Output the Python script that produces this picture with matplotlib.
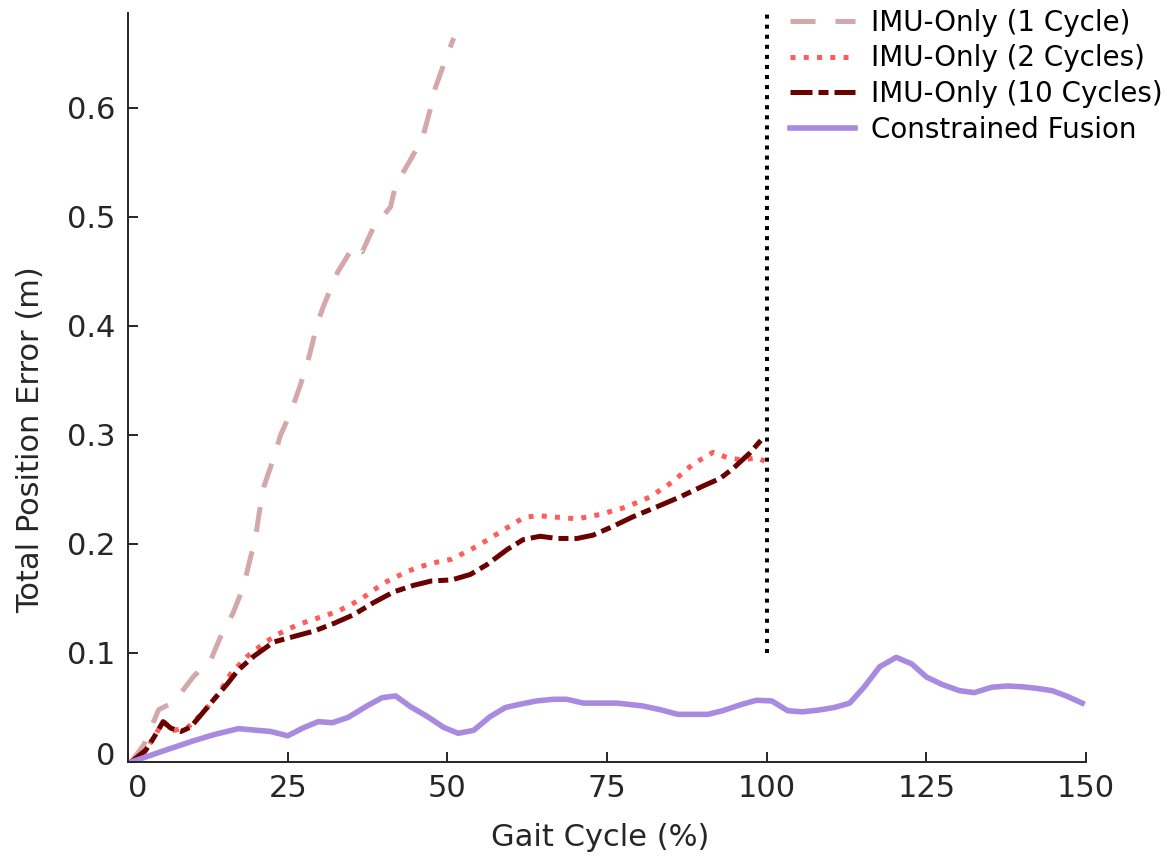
import matplotlib
matplotlib.use('Agg')
import matplotlib.pyplot as plt
from matplotlib.transforms import ScaledTranslation

# IMU-only, 1 cycle integration
x_one = [0.5, 2.5, 4.8, 7.2, 10.2, 11.7, 12.7, 14.5, 16.4, 18.1, 18.7, 20.0, 20.5,
         21.3, 22.7, 23.9, 25.5, 27.0, 28.1, 29.7, 30.6, 32.8, 35.4, 36.7, 38.4,
         41.1, 41.9, 44.2, 46.1, 47.3, 48.1, 49.7, 51.0]
y_one = [0.0, 0.016, 0.048, 0.055, 0.078, 0.087, 0.090, 0.115, 0.136, 0.161, 0.176,
         0.207, 0.227, 0.253, 0.277, 0.300, 0.321, 0.346, 0.366, 0.403, 0.418, 0.449,
         0.474, 0.468, 0.490, 0.509, 0.529, 0.552, 0.572, 0.598, 0.618, 0.644, 0.664]

# IMU-only, 2 cycles
x_two = [0.5, 2.5, 4.4, 5.5, 7.2, 9.4, 11.7, 14.1, 16.1, 18.7, 21.3, 23.4, 26.6,
         29.7, 32.8, 36.4, 40.0, 43.8, 47.3, 50.7, 54.7, 58.3, 61.9, 64.0, 66.1,
         68.1, 70.3, 73.9, 78.1, 81.7, 85.3, 88.4, 91.6, 93.9, 96.2, 98.4, 99.7]
y_two = [0.0, 0.008, 0.026, 0.037, 0.029, 0.032, 0.045, 0.062, 0.081, 0.097, 0.109,
         0.117, 0.126, 0.132, 0.138, 0.149, 0.164, 0.175, 0.182, 0.186, 0.198, 0.211,
         0.224, 0.226, 0.225, 0.224, 0.223, 0.227, 0.234, 0.243, 0.257, 0.273, 0.284,
         0.279, 0.277, 0.279, 0.276]

# IMU-only, 10 cycles
x_ten = [0.5, 2.8, 4.1, 5.5, 6.7, 8.3, 9.8, 11.4, 13.4, 15.6, 17.2, 19.7, 22.8,
         25.9, 29.1, 32.2, 35.3, 38.4, 41.6, 44.7, 47.5, 50.7, 53.6, 56.2, 59.4,
         61.9, 64.5, 67.2, 70.3, 72.8, 75.9, 79.1, 82.8, 86.4, 90.0, 92.7, 94.7,
         97.3, 99.7]
y_ten = [0.0, 0.011, 0.023, 0.037, 0.031, 0.028, 0.032, 0.043, 0.057, 0.072, 0.084,
         0.097, 0.110, 0.115, 0.120, 0.127, 0.135, 0.146, 0.156, 0.162, 0.166, 0.167,
         0.172, 0.181, 0.195, 0.204, 0.207, 0.205, 0.205, 0.208, 0.216, 0.225, 0.234,
         0.243, 0.253, 0.260, 0.269, 0.283, 0.299]

# constrained fusion
x_fus = [0.5, 5.2, 7.5, 10.3, 13.4, 17.3, 20.3, 22.3, 25.0, 27.5, 29.8, 32.0, 34.5,
         37.5, 39.8, 41.9, 44.2, 46.9, 49.4, 51.7, 54.1, 56.7, 59.1, 61.4, 64.0,
         66.6, 68.7, 71.3, 73.9, 76.6, 80.6, 83.3, 86.1, 90.8, 93.1, 95.8, 98.4,
         100.8, 103.3, 105.6, 108.3, 110.6, 113.0, 115.3, 117.7, 120.3, 122.7, 125.0,
         127.5, 130.2, 132.5, 135.2, 137.7, 140.0, 142.2, 144.7, 146.9, 149.4]
y_fus = [0.0, 0.0095, 0.014, 0.0195, 0.025, 0.0306, 0.029, 0.028, 0.024, 0.0315,
         0.037, 0.036, 0.041, 0.0517, 0.059, 0.0606, 0.0508, 0.0416, 0.0318, 0.0263,
         0.029, 0.0416, 0.050, 0.053, 0.056, 0.0575, 0.0575, 0.054, 0.054, 0.054,
         0.0514, 0.048, 0.0437, 0.0437, 0.047, 0.0523, 0.0566, 0.056, 0.047, 0.046,
         0.0477, 0.050, 0.054, 0.069, 0.0874, 0.096, 0.090, 0.078, 0.071, 0.0654,
         0.0636, 0.0685, 0.0697, 0.069, 0.0676, 0.0654, 0.0606, 0.054]

cycle_end = 100
cycle_line_y = [0.1, 0.687]

dark = '#262626'
plt.rcParams['font.family'] = 'DejaVu Sans'
plt.rcParams['font.size'] = 22

fig = plt.figure(figsize=(11.67, 8.61), dpi=100)
ax = fig.add_axes([0.1097, 0.115, 0.8209, 0.870])

ax.plot(x_one, y_one, color='#D4A7AA', lw=3.6, dashes=(5, 4), label='IMU-Only (1 Cycle)')
ax.plot(x_two, y_two, color='#FF5C5C', lw=3.6, linestyle=':', label='IMU-Only (2 Cycles)')
ax.plot(x_ten, y_ten, color='#6B0000', lw=3.6, dashes=(4.4, 1.2, 2, 1.2), label='IMU-Only (10 Cycles)')
ax.plot(x_fus, y_fus, color='#A88BE0', lw=4, label='Constrained Fusion')
ax.plot([cycle_end, cycle_end], cycle_line_y, color='black', lw=2.9, dashes=(1, 1.5),
        solid_capstyle='butt')

ax.set_xlim(0, 150)
ax.set_ylim(0, 0.687)
ax.set_xticks([0, 25, 50, 75, 100, 125, 150])
ax.set_yticks([0, 0.1, 0.2, 0.3, 0.4, 0.5, 0.6])
ax.set_yticklabels(['0', '0.1', '0.2', '0.3', '0.4', '0.5', '0.6'])

for s in ['top', 'right']:
    ax.spines[s].set_visible(False)
for s in ['left', 'bottom']:
    ax.spines[s].set_color(dark)
    ax.spines[s].set_linewidth(1.4)
ax.tick_params(direction='in', length=7, width=1.4, color=dark, labelcolor=dark, pad=9)

# nudge the two zero labels off the corner
lx = ax.get_xticklabels()[0]
lx.set_transform(lx.get_transform() + ScaledTranslation(0.1, 0, fig.dpi_scale_trans))
ly = ax.get_yticklabels()[0]
ly.set_transform(ly.get_transform() + ScaledTranslation(0, 0.08, fig.dpi_scale_trans))

ax.set_xlabel('Gait Cycle (%)', color=dark)
ax.set_ylabel('Total Position Error (m)', color=dark)
ax.xaxis.set_label_coords(0.493, -0.081)
ax.yaxis.set_label_coords(-0.087, 0.43)

leg = ax.legend(loc='upper right', bbox_to_anchor=(0.996, 0.990), bbox_transform=fig.transFigure,
                frameon=False, borderpad=0, handlelength=2.35, handletextpad=0.55,
                labelspacing=0.28, borderaxespad=0, fontsize=20)
for t in leg.get_texts():
    t.set_color('black')

fig.savefig('out.png', dpi=100)
